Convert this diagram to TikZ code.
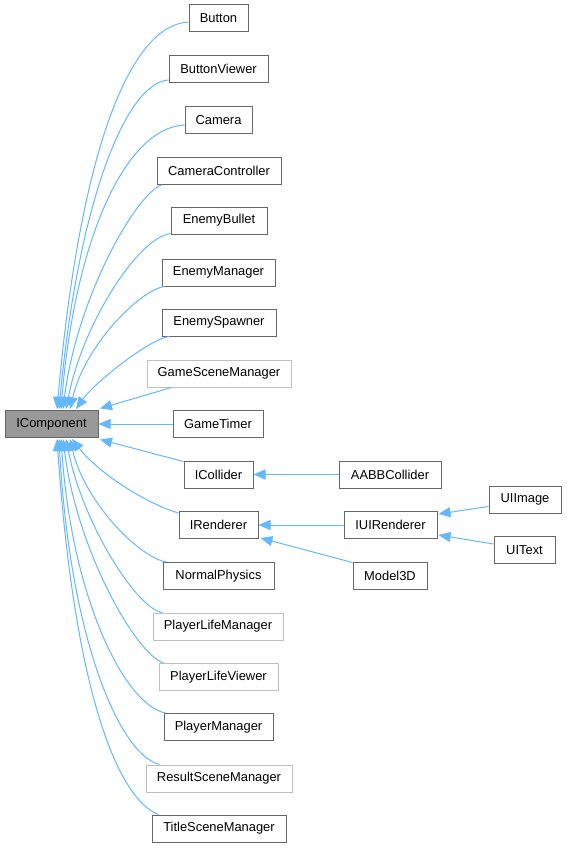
\documentclass[tikz,border=0pt]{standalone}
\usepackage{fontspec}
\setmainfont{Liberation Sans}
\usetikzlibrary{arrows.meta}
\definecolor{edgecol}{RGB}{99,184,255}
\definecolor{darkb}{RGB}{102,102,102}
\definecolor{lightb}{RGB}{191,191,191}
\definecolor{basefill}{RGB}{153,153,153}
\begin{document}
\begin{tikzpicture}[x=1pt,y=-1pt,
  box/.style={draw=darkb, fill=white, line width=1pt, minimum height=27pt, inner sep=0pt, font=\fontsize{12.9}{15}\selectfont, text=black},
  ghost/.style={box, draw=lightb},
  base/.style={box, fill=basefill},
  inh/.style={draw=edgecol, line width=1pt, -{Triangle[length=12pt,width=10pt]}},
]
\fill[white] (0,0) rectangle (566,848);
\useasboundingbox (0,0) rectangle (566,848);

% nodes
\node[box, minimum width=59pt]  (button)    at (218.5,18.5) {Button};
\node[box, minimum width=99pt]  (bviewer)   at (218.5,69)   {ButtonViewer};
\node[box, minimum width=67pt]  (camera)    at (218.5,120)  {Camera};
\node[box, minimum width=124pt] (camctrl)   at (219,171)    {CameraController};
\node[box, minimum width=96pt]  (ebullet)   at (219,220.5)  {EnemyBullet};
\node[box, minimum width=113pt] (emanager)  at (218.5,272.5){EnemyManager};
\node[box, minimum width=114pt] (espawner)  at (219,322.5)  {EnemySpawner};
\node[ghost, minimum width=144pt] (gsm)     at (219,373.5)  {GameSceneManager};
\node[box, minimum width=90pt]  (gtimer)    at (218,424)    {GameTimer};
\node[box, minimum width=69pt]  (icollider) at (218.5,474.5){ICollider};
\node[box, minimum width=79pt]  (irenderer) at (218.5,525)  {IRenderer};
\node[box, minimum width=111pt] (nphys)     at (218.5,576)  {NormalPhysics};
\node[ghost, minimum width=130pt] (plmanager) at (218,626.5) {PlayerLifeManager};
\node[ghost, minimum width=119pt] (plviewer)  at (218.5,677) {PlayerLifeViewer};
\node[box, minimum width=109pt] (pmanager)  at (218.5,727)  {PlayerManager};
\node[ghost, minimum width=146pt] (rsm)     at (219,778.5)  {ResultSceneManager};
\node[box, minimum width=134pt] (tsm)       at (219,828.5)  {TitleSceneManager};
\node[base, minimum width=93pt] (icomp)     at (51.5,424)   {IComponent};
\node[box, minimum width=102pt] (aabb)      at (390,474.5)  {AABBCollider};
\node[box, minimum width=93pt]  (iuir)      at (390.5,525)  {IUIRenderer};
\node[box, minimum width=74pt]  (model)     at (390,575.5)  {Model3D};
\node[box, minimum width=72pt]  (uiimage)   at (525,499.5)  {UIImage};
\node[box, minimum width=61pt]  (uitext)    at (524.5,550)  {UIText};

% edges to IComponent (top)
\draw[inh] ([yshift=-3.5pt]button.west) .. controls (130,25) and (80,150) .. ([xshift=5.5pt,yshift=1pt]icomp.north);
\draw[inh] ([yshift=-11pt]bviewer.west) .. controls (125,83) and (78,205) .. ([xshift=7.5pt,yshift=1pt]icomp.north);
\draw[inh] ([yshift=-5pt]camera.west) .. controls (125,128) and (75,240) .. ([xshift=9.5pt,yshift=1pt]icomp.north);
\draw[inh] ([xshift=5pt]camctrl.south west) .. controls (136,194) and (77,297) .. ([xshift=11.5pt,yshift=1pt]icomp.north);
\draw[inh] ([yshift=1pt]ebullet.south west) .. controls (138,238) and (83,323) .. ([xshift=14.5pt,yshift=1pt]icomp.north);
\draw[inh] ([xshift=3pt]emanager.south west) .. controls (140,290) and (85,345) .. ([xshift=18.5pt,yshift=1pt]icomp.north);
\draw[inh] ([xshift=8pt]espawner.south west) .. controls (151,338) and (95,382) .. ([xshift=24.5pt,yshift=1pt]icomp.north);
\draw[inh] ([xshift=25pt]gsm.south west) -- ([xshift=1.5pt,yshift=1.5pt]icomp.north east);
\draw[inh] (gtimer.west) -- (icomp.east);
% edges to IComponent (bottom)
\draw[inh] ([yshift=-1pt]icollider.north west) -- ([xshift=1.5pt,yshift=-1.5pt]icomp.south east);
\draw[inh] ([yshift=-2pt]irenderer.north west) .. controls (150,505) and (100,475) .. ([xshift=20.5pt,yshift=-1pt]icomp.south);
\draw[inh] ([xshift=4pt]nphys.north west) .. controls (140,558) and (85,503) .. ([xshift=18.5pt,yshift=-1pt]icomp.south);
\draw[inh] ([xshift=10pt]plmanager.north west) .. controls (138,610) and (83,525) .. ([xshift=14.5pt,yshift=-1pt]icomp.south);
\draw[inh] ([xshift=5pt]plviewer.north west) .. controls (136,654) and (77,551) .. ([xshift=11.5pt,yshift=-1pt]icomp.south);
\draw[inh] ([xshift=2pt]pmanager.north west) .. controls (125,705) and (72,600) .. ([xshift=9.5pt,yshift=-1pt]icomp.south);
\draw[inh] ([xshift=14pt]rsm.north west) .. controls (120,755) and (70,640) .. ([xshift=7.5pt,yshift=-1pt]icomp.south);
\draw[inh] ([xshift=7pt]tsm.north west) .. controls (120,800) and (75,700) .. ([xshift=5.5pt,yshift=-1pt]icomp.south);

% other inheritance
\draw[inh] (aabb.west) -- (icollider.east);
\draw[inh] (iuir.west) -- (irenderer.east);
\draw[inh] ([yshift=-1pt]model.north west) -- ([xshift=2pt,yshift=1pt]irenderer.south east);
\draw[inh] ([yshift=7pt]uiimage.south west) -- ([xshift=1pt,yshift=11pt]iuir.east);
\draw[inh] ([yshift=-8pt]uitext.north west) -- ([xshift=1pt,yshift=-10pt]iuir.east);
\end{tikzpicture}
\end{document}
